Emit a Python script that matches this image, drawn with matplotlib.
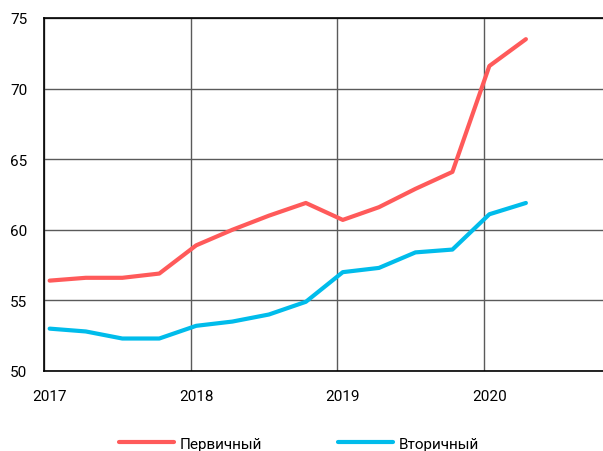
import pandas as pd
import matplotlib
matplotlib.use('Agg')
import matplotlib.pyplot as plt

plt.rcParams['font.family'] = ['Roboto', 'DejaVu Sans']

# квартальные точки, середина первого месяца квартала
dates = ['2017-01-15', '2017-04-15', '2017-07-15', '2017-10-15',
         '2018-01-15', '2018-04-15', '2018-07-15', '2018-10-15',
         '2019-01-15', '2019-04-15', '2019-07-15', '2019-10-15',
         '2020-01-15', '2020-04-15']
pervichny = [56.4, 56.6, 56.6, 56.9, 58.9, 60.0, 61.0, 61.9,
             60.7, 61.6, 62.9, 64.1, 71.6, 73.5]
vtorichny = [53.0, 52.8, 52.3, 52.3, 53.2, 53.5, 54.0, 54.9,
             57.0, 57.3, 58.4, 58.6, 61.1, 61.9]
years = [2017, 2018, 2019, 2020]

x = pd.to_datetime(dates)

fig = plt.figure(figsize=(6.03, 4.52), dpi=100)
ax = fig.add_axes([0.073, 0.177, 0.927, 0.781])

ax.plot(x, pervichny, color='#FF5A5A', lw=3.0, solid_capstyle='round', label='Первичный')
ax.plot(x, vtorichny, color='#00BCEB', lw=3.0, solid_capstyle='round', label='Вторичный')

ax.set_ylim(50, 75)
ax.set_yticks(range(50, 76, 5))
ax.set_xlim(pd.Timestamp('2017-01-01'), pd.Timestamp('2020-10-24'))

# сетка по началу года, подписи по середине января
ax.set_xticks([pd.Timestamp(f'{y}-01-01') for y in years])
ax.set_xticks([pd.Timestamp(f'{y}-01-15') for y in years], minor=True)
ax.set_xticklabels([])
ax.set_xticklabels([str(y) for y in years], minor=True)
ax.tick_params(axis='x', which='major', length=0)
ax.tick_params(axis='x', which='minor', length=0, pad=13, labelsize=11)
ax.tick_params(axis='y', length=0, pad=12, labelsize=11)

ax.grid(True, which='major', color='#5a5a5a', lw=1)
ax.set_axisbelow(True)
ax.spines['right'].set_visible(False)
for side in ['left', 'bottom', 'top']:
    ax.spines[side].set_color('black')
    ax.spines[side].set_linewidth(1.2)

fig.legend(loc='center', bbox_to_anchor=(0.496, 0.016), ncol=2, frameon=False,
           fontsize=11, handlelength=3.6, handletextpad=0.35, columnspacing=5.0)

fig.savefig('out.png', dpi=100)
